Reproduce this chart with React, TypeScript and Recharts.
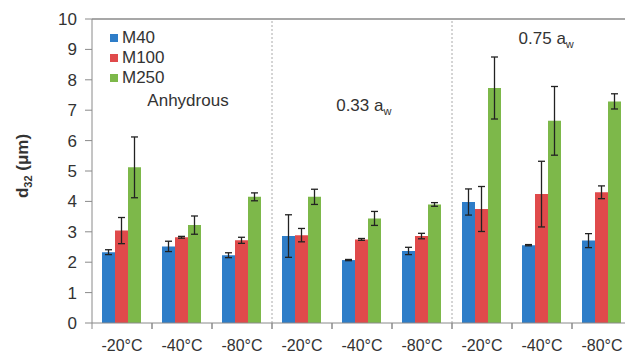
import React from "react";
import { BarChart, Bar, XAxis, YAxis, ErrorBar, ReferenceLine, ReferenceDot } from "recharts";

const categories = ["-20°C", "-40°C", "-80°C", "-20°C", "-40°C", "-80°C", "-20°C", "-40°C", "-80°C"];
const m40 = [2.33, 2.52, 2.23, 2.86, 2.07, 2.37, 3.98, 2.56, 2.71];
const m40Err = [0.08, 0.17, 0.08, 0.7, 0.02, 0.12, 0.43, 0.02, 0.23];
const m100 = [3.04, 2.82, 2.72, 2.89, 2.75, 2.86, 3.75, 4.24, 4.3];
const m100Err = [0.43, 0.03, 0.1, 0.22, 0.03, 0.09, 0.74, 1.08, 0.21];
const m250 = [5.12, 3.22, 4.15, 4.15, 3.44, 3.9, 7.73, 6.65, 7.29];
const m250Err = [1.0, 0.3, 0.13, 0.25, 0.23, 0.06, 1.02, 1.13, 0.25];
const yTicks = [0, 1, 2, 3, 4, 5, 6, 7, 8, 9, 10];
const groupBoundaries = [3, 6];
const annotations = [
  { x: 1.6, y: 7.33, main: "Anhydrous", sub: "" },
  { x: 4.53, y: 7.15, main: "0.33 a", sub: "w" },
  { x: 7.57, y: 9.35, main: "0.75 a", sub: "w" },
];

const series = [
  { key: "m40", err: "m40Err", name: "M40", color: "#2E7DC8" },
  { key: "m100", err: "m100Err", name: "M100", color: "#E04A4B" },
  { key: "m250", err: "m250Err", name: "M250", color: "#7DB84A" },
];

const data = categories.map((label, i) => ({
  label,
  pos: i + 0.5,
  m40: m40[i],
  m40Err: m40Err[i],
  m100: m100[i],
  m100Err: m100Err[i],
  m250: m250[i],
  m250Err: m250Err[i],
}));

const FONT = "'Liberation Sans', Arial, sans-serif";
const TEXT = "#333";
const AXIS = "#8a8a8a";

function XTick(props: any) {
  const { x, y, payload, width, visibleTicksCount } = props;
  const half =
    payload && payload.offset ? payload.offset : width && visibleTicksCount ? width / visibleTicksCount / 2 : 30;
  return (
    <g>
      <line x1={x - half} y1={y} x2={x - half} y2={y + 6} stroke={AXIS} />
      <line x1={x + half} y1={y} x2={x + half} y2={y + 6} stroke={AXIS} />
      <text x={x} y={y + 28} textAnchor="middle" fontSize={16} fill={TEXT} fontFamily={FONT}>
        {payload.value}
      </text>
    </g>
  );
}

function YLabel(props: any) {
  const vb = props.viewBox || { x: 0, y: 19, width: 92, height: 304 };
  const cx = vb.x + 28;
  const cy = vb.y + vb.height / 2 - 5;
  return (
    <text
      x={cx}
      y={cy}
      transform={`rotate(-90, ${cx}, ${cy})`}
      textAnchor="middle"
      fontSize={17}
      fontWeight="bold"
      fill={TEXT}
      fontFamily={FONT}
    >
      d
      <tspan fontSize={11} dy={4}>
        32
      </tspan>
      <tspan dy={-4}> (μm)</tspan>
    </text>
  );
}

function AnnotLabel(props: any) {
  const vb = props.viewBox || { x: 0, y: 0 };
  return (
    <text
      x={vb.x}
      y={vb.y}
      textAnchor="middle"
      dominantBaseline="central"
      fontSize={17}
      fill={TEXT}
      fontFamily={FONT}
    >
      {props.main}
      {props.sub ? (
        <tspan fontSize={11} dy={5}>
          {props.sub}
        </tspan>
      ) : null}
    </text>
  );
}

function LegendBox() {
  return (
    <div
      style={{
        position: "absolute",
        top: 28,
        left: 110,
        fontFamily: FONT,
        fontSize: 17,
        color: TEXT,
        lineHeight: "20px",
      }}
    >
      {series.map((s) => (
        <div key={s.key} style={{ display: "flex", alignItems: "center", height: 20 }}>
          <span style={{ width: 8, height: 8, background: s.color, display: "inline-block", marginRight: 4 }} />
          <span>{s.name}</span>
        </div>
      ))}
    </div>
  );
}

export default function App() {
  return (
    <div
      style={{
        position: "absolute",
        left: 0,
        top: 0,
        width: 625,
        height: 355,
        overflow: "hidden",
        background: "#fff",
      }}
    >
      <BarChart
        width={640}
        height={355}
        data={data}
        margin={{ top: 19, right: 8, left: 0, bottom: 0 }}
        barCategoryGap={10}
        barGap={0}
      >
        <XAxis
          dataKey="label"
          height={32}
          stroke={AXIS}
          tickLine={false}
          tickSize={0}
          tickMargin={0}
          interval={0}
          tick={<XTick />}
        />
        <XAxis xAxisId="num" type="number" dataKey="pos" domain={[0, 9]} hide allowDataOverflow />
        <YAxis
          domain={[0, 10]}
          ticks={yTicks}
          width={92}
          stroke={AXIS}
          tickSize={7}
          tickMargin={8}
          interval={0}
          tick={{ fontSize: 17, fill: TEXT, fontFamily: FONT }}
          label={<YLabel />}
        />
        <ReferenceLine y={10} stroke={AXIS} strokeWidth={1.5} />
        {groupBoundaries.map((b) => (
          <ReferenceLine key={b} xAxisId="num" x={b} stroke="#aaa" strokeDasharray="2 2" />
        ))}
        {series.map((s) => (
          <Bar key={s.key} dataKey={s.key} name={s.name} fill={s.color} isAnimationActive={false}>
            <ErrorBar dataKey={s.err} width={3.5} stroke="#222" strokeWidth={1.3} />
          </Bar>
        ))}
        {annotations.map((a) => (
          <ReferenceDot
            key={a.main}
            xAxisId="num"
            x={a.x}
            y={a.y}
            r={0}
            fill="none"
            stroke="none"
            label={<AnnotLabel main={a.main} sub={a.sub} />}
          />
        ))}
      </BarChart>
      <LegendBox />
    </div>
  );
}
